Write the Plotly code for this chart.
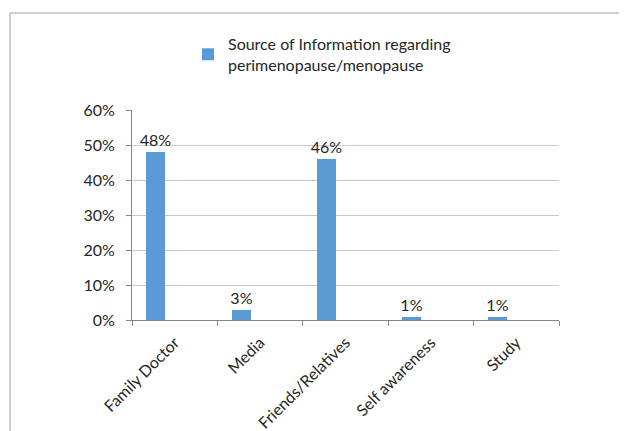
import plotly.graph_objects as go

categories = ["Family Doctor", "Media", "Friends/Relatives", "Self awareness", "Study"]
values = [0.48, 0.03, 0.46, 0.01, 0.01]
y_ticks = [0, 0.1, 0.2, 0.3, 0.4, 0.5, 0.6]
series_name = "Source of Information regarding<br>perimenopause/menopause"

# page body has an 8px margin, so figure coordinates are page coordinates minus 8
W, H = 627, 431
L, R, T, B = 124, 76, 102, 119
pw, ph = W - L - R, H - T - B

txt = "#262626"
grid = "#c8c8c8"
axis_c = "#868686"
font = "Lato"
fs = 16

fig = go.Figure()
fig.add_trace(go.Bar(
    x=categories, y=values, name=series_name,
    marker=dict(color="#5B9BD5", line=dict(width=0)),
    width=1 / 4.5, offset=-0.5 + 0.75 / 4.5,
    text=[f"{round(v*100)}%" for v in values],
    textposition="outside", cliponaxis=False, constraintext="none",
    textfont=dict(family=font, size=fs, color=txt),
    showlegend=True,
))

def px_x(p):
    return (p - L) / pw

def px_y(p):
    return (H - B - p) / ph

fig.update_layout(
    width=W, height=H,
    margin=dict(l=L, r=R, t=T, b=B, autoexpand=False),
    paper_bgcolor="white", plot_bgcolor="white",
    font=dict(family=font, size=fs, color=txt),
    bargap=0,
    showlegend=True,
    legend=dict(x=px_x(180), y=px_y(19), xanchor="left", yanchor="top",
                font=dict(family=font, size=16, color=txt),
                bgcolor="rgba(0,0,0,0)", itemwidth=30),
    xaxis=dict(type="category", showgrid=False, showline=True, linecolor=axis_c, linewidth=1,
               ticks="outside", tickson="boundaries", ticklen=5, tickcolor=axis_c,
               tickangle=-45, automargin=False, ticklabelstandoff=6,
               tickfont=dict(family=font, size=fs, color=txt)),
    yaxis=dict(range=[0, 0.6], tickvals=y_ticks, tickformat=".0%",
               showgrid=True, gridcolor=grid, gridwidth=1,
               showline=True, linecolor=axis_c, linewidth=1,
               ticks="outside", ticklen=5, tickcolor=axis_c, ticklabelstandoff=8,
               zeroline=False, automargin=False,
               tickfont=dict(family=font, size=fs, color=txt)),
    shapes=[
        dict(type="line", xref="paper", yref="paper", x0=px_x(2), x1=px_x(W + 5),
             y0=px_y(5), y1=px_y(5), line=dict(color="#a0a0a0", width=1)),
        dict(type="line", xref="paper", yref="paper", x0=px_x(2), x1=px_x(2),
             y0=px_y(5), y1=px_y(H + 5), line=dict(color="#a0a0a0", width=1)),
    ],
)

fig.write_html("out.html")
